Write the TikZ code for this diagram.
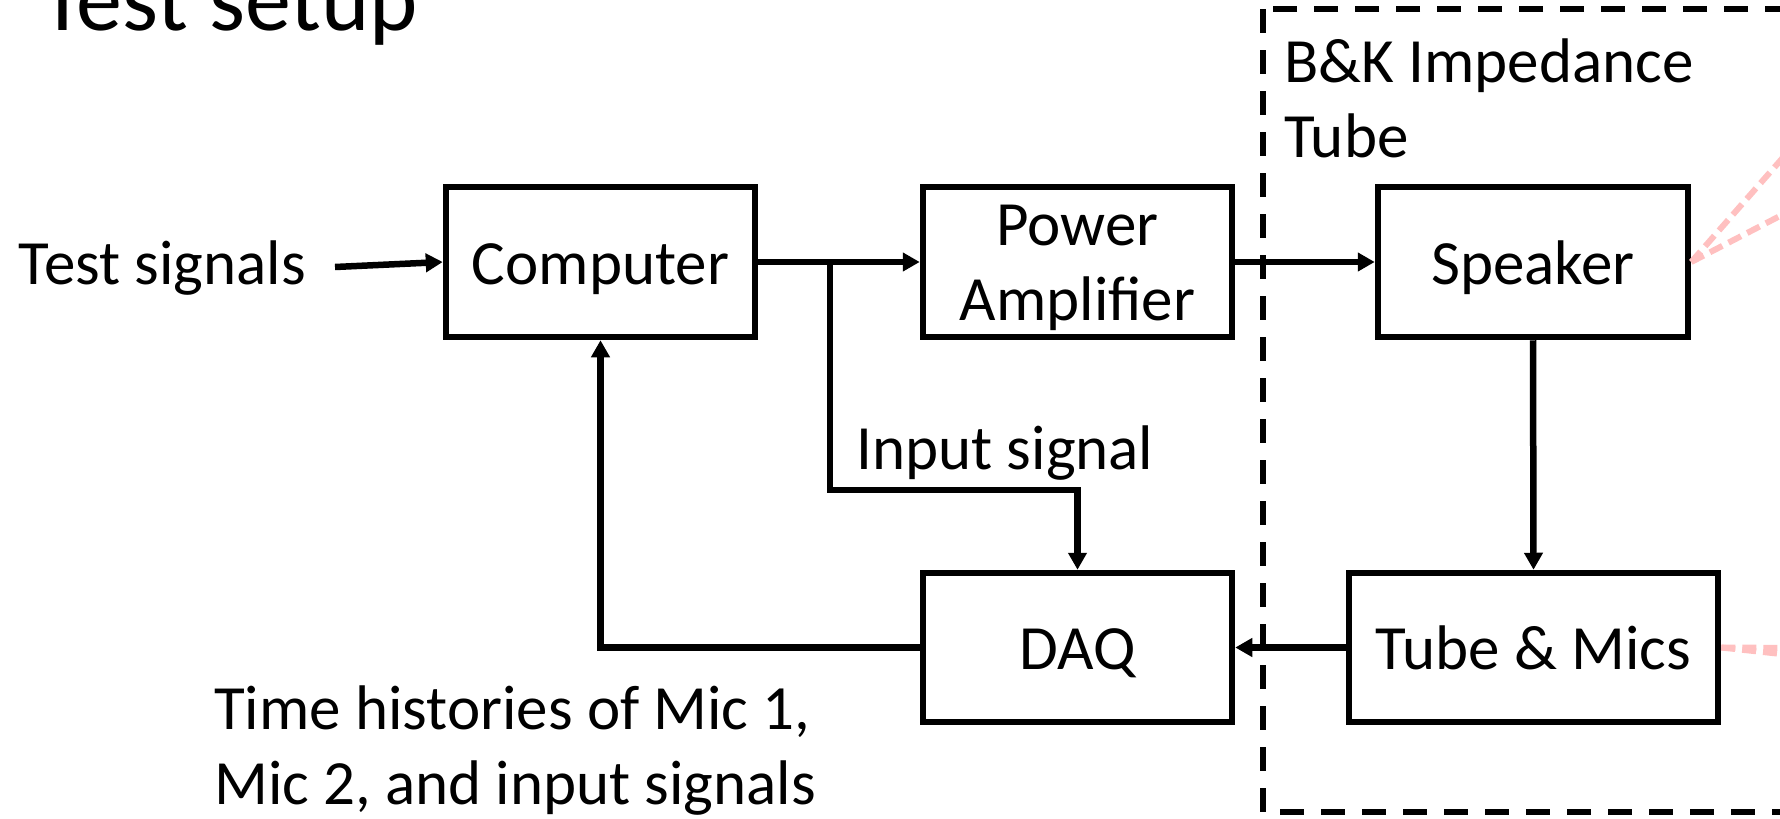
\documentclass[tikz,border=0pt]{standalone}
\usepackage{fontspec}
\setmainfont{Carlito}
\usetikzlibrary{arrows.meta}
\begin{document}
\begin{tikzpicture}[x=1pt,y=-1pt,
  every node/.style={font=\fontsize{63}{75}\selectfont, inner sep=0pt},
  blk/.style={draw, line width=6.5pt, minimum height=150pt, align=center, text height=50pt, text depth=6pt},
  arr/.style={line width=6.5pt, -{Triangle[length=17pt,width=18pt]}},
  lbl/.style={align=left},
  tubebox/.style={line width=6pt, dash pattern=on 24pt off 17pt},
  pinkline/.style={line width=6pt, color=pinkc, dash pattern=on 14pt off 7pt}]
\definecolor{pinkc}{RGB}{255,192,192}
\useasboundingbox (0,0) rectangle (1780,819);
\clip (0,0) rectangle (1780,819);

% title (cropped at the top)
\node[anchor=base west, font=\fontsize{92}{104}\selectfont] (title) at (40,30) {Test setup};

% dashed tube boundary
\draw[tubebox] (1263,9) rectangle (1830,812);
\node[lbl, anchor=west] (bk) at (1284,98) {B\&K Impedance\\Tube};

% blocks
\node[blk, minimum width=309pt] (comp) at (600.5,262) {Computer};
\node[blk, minimum width=309pt, text height=122pt, text depth=6pt] (amp) at (1077.5,262) {Power\\Amplifier};
\node[blk, minimum width=310pt] (spk) at (1533,262) {Speaker};
\node[blk, minimum width=309pt, minimum height=149pt] (daq) at (1077.5,647.5) {DAQ};
\node[blk, minimum width=369pt, minimum height=149pt] (tube) at (1533.5,647.5) {Tube \& Mics};

% labels
\node[anchor=base east] (ts) at (306,284) {Test signals};
\node[anchor=base] (insig) at (1005,469) {Input signal};
\node[lbl, anchor=west] (hist) at (214,751) {Time histories of Mic 1,\\Mic 2, and input signals};

% connectors
\coordinate (tsend) at (335,267);
\coordinate (br) at (830,262);
\coordinate (bend) at (830,490);
\draw[arr] (tsend) -- (comp.west);
\draw[arr] (comp.east) -- (amp.west);
\draw[arr] (amp.east) -- (spk.west);
\draw[arr] (br) |- (daq.north |- bend) -- (daq.north);
\draw[arr] (spk.south) -- (tube.north);
\draw[arr] (tube.west) -- (daq.east);
\draw[arr] (daq.west) -| (comp.south);

% pink dashed leader lines going off the right edge
\coordinate (p1) at (1830,104);
\coordinate (p2) at (1830,190);
\coordinate (p3) at (1800,648);
\coordinate (p4) at (1800,656);
\draw[pinkline] (spk.east) -- (p1);
\draw[pinkline] (spk.east) -- (p2);
\draw[pinkline] (tube.east) -- (p3);
\draw[pinkline] (tube.east) -- (p4);
\end{tikzpicture}
\end{document}
